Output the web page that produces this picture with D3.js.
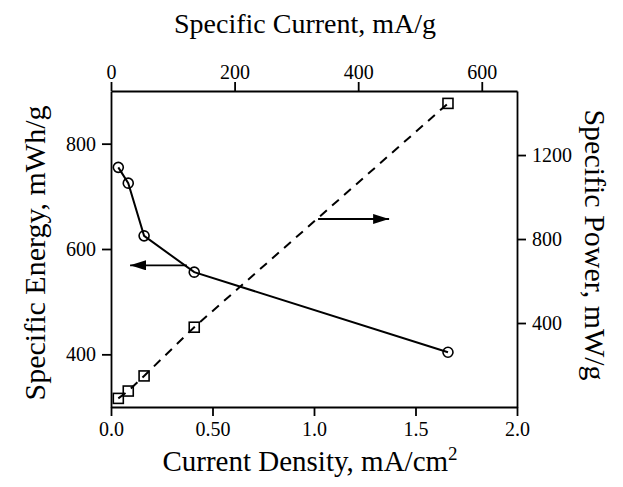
<!DOCTYPE html>
<html>
<head>
<meta charset="utf-8">
<script src="https://cdn.jsdelivr.net/npm/d3@7"></script>
<style>
  body { margin: 0; background: #fff; }
  svg text { font-family: "Liberation Serif", "Times New Roman", serif; fill: #000; }
  .axis path, .axis line { stroke: #000; stroke-width: 1.8px; }
</style>
</head>
<body>
<svg id="chart" width="623" height="487"></svg>
<script>
// data
const currentDensity = [0.036, 0.085, 0.163, 0.41, 1.66];   // mA/cm2
const specificEnergy = [755, 725, 625, 556, 404];           // mWh/g
const specificPower = [41, 76, 148, 380, 1446];             // mW/g

const bottomTicks = [0, 0.5, 1.0, 1.5, 2.0];
const bottomTickLabels = ["0.0", "0.50", "1.0", "1.5", "2.0"];
const topTicks = [0, 200, 400, 600];
const leftTicks = [400, 600, 800];
const rightTicks = [400, 800, 1200];

// arrow annotations: [x from, x to, energy level]
const energyArrow = [0.374, 0.094, 569];
const powerArrow = [1.02, 1.37, 657];

const svg = d3.select("#chart");
const mLeft = 111, mRight = 517, mTop = 91, mBottom = 407;
const serif = "'Liberation Serif', 'Times New Roman', serif";

const x = d3.scaleLinear().domain([0, 2.0]).range([mLeft, mRight]);
const xTop = d3.scaleLinear().domain([0, 657]).range([mLeft, mRight]);
const yLeft = d3.scaleLinear().domain([300, 900]).range([mBottom, mTop]);
const yRight = d3.scaleLinear().domain([0, 1505]).range([mBottom, mTop]);

// axes
svg.append("g").attr("class", "axis")
  .attr("transform", `translate(0,${mBottom})`)
  .call(d3.axisBottom(x).tickValues(bottomTicks).tickSize(9).tickSizeOuter(0).tickPadding(6)
    .tickFormat((d, i) => bottomTickLabels[i]));

svg.append("g").attr("class", "axis")
  .attr("transform", `translate(0,${mTop})`)
  .call(d3.axisTop(xTop).tickValues(topTicks).tickSize(9).tickSizeOuter(0).tickPadding(3)
    .tickFormat(d3.format("d")));

svg.append("g").attr("class", "axis")
  .attr("transform", `translate(${mLeft},0)`)
  .call(d3.axisLeft(yLeft).tickValues(leftTicks).tickSize(9).tickSizeOuter(0).tickPadding(6)
    .tickFormat(d3.format("d")));

svg.append("g").attr("class", "axis")
  .attr("transform", `translate(${mRight},0)`)
  .call(d3.axisRight(yRight).tickValues(rightTicks).tickSize(9).tickSizeOuter(0).tickPadding(6)
    .tickFormat(d3.format("d")));

svg.selectAll(".axis").attr("font-family", null).attr("font-size", null);
svg.selectAll(".axis text").style("font-family", serif).style("font-size", "20px");
svg.selectAll(".axis .domain").attr("fill", "none");

// energy line with circles
const energyPts = currentDensity.map((c, i) => [c, specificEnergy[i]]);
svg.append("path")
  .attr("d", d3.line().x(d => x(d[0])).y(d => yLeft(d[1]))(energyPts))
  .attr("fill", "none").attr("stroke", "#000").attr("stroke-width", 2);
svg.selectAll("circle.e").data(energyPts).join("circle")
  .attr("class", "e")
  .attr("cx", d => x(d[0])).attr("cy", d => yLeft(d[1])).attr("r", 5)
  .attr("fill", "none").attr("stroke", "#000").attr("stroke-width", 1.6);

// power line with squares
const powerPts = currentDensity.map((c, i) => [c, specificPower[i]]);
svg.append("path")
  .attr("d", d3.line().x(d => x(d[0])).y(d => yRight(d[1]))(powerPts))
  .attr("fill", "none").attr("stroke", "#000").attr("stroke-width", 2)
  .attr("stroke-dasharray", "9,7");
svg.selectAll("rect.p").data(powerPts).join("rect")
  .attr("class", "p")
  .attr("x", d => x(d[0]) - 5).attr("y", d => yRight(d[1]) - 5)
  .attr("width", 10).attr("height", 10)
  .attr("fill", "none").attr("stroke", "#000").attr("stroke-width", 1.6);

// arrows
svg.append("defs").append("marker")
  .attr("id", "head").attr("viewBox", "0 0 16 10")
  .attr("refX", 16).attr("refY", 5)
  .attr("markerWidth", 16).attr("markerHeight", 10)
  .attr("markerUnits", "userSpaceOnUse").attr("orient", "auto")
  .append("path").attr("d", "M0,0 L16,5 L0,10 Z").attr("fill", "#000");

[energyArrow, powerArrow].forEach(a => {
  svg.append("line")
    .attr("x1", x(a[0])).attr("x2", x(a[1]))
    .attr("y1", yLeft(a[2])).attr("y2", yLeft(a[2]))
    .attr("stroke", "#000").attr("stroke-width", 1.8)
    .attr("marker-end", "url(#head)");
});

// titles
svg.append("text")
  .attr("x", 305).attr("y", 33).attr("text-anchor", "middle")
  .attr("font-size", 28)
  .text("Specific Current, mA/g");

const bt = svg.append("text")
  .attr("x", 310).attr("y", 471).attr("text-anchor", "middle")
  .attr("font-size", 29);
bt.append("tspan").text("Current Density, mA/cm");
bt.append("tspan").attr("dy", -11).attr("font-size", 19).text("2");

svg.append("text")
  .attr("transform", "translate(45,253) rotate(-90)")
  .attr("text-anchor", "middle").attr("font-size", 30)
  .text("Specific Energy, mWh/g");

svg.append("text")
  .attr("transform", "translate(585,245) rotate(90)")
  .attr("text-anchor", "middle").attr("font-size", 30)
  .text("Specific Power, mW/g");
</script>
</body>
</html>
